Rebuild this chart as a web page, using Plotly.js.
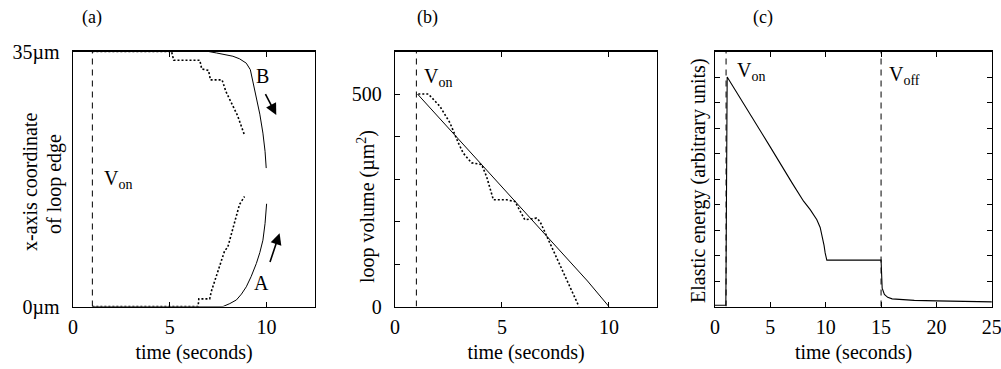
<!DOCTYPE html>
<html>
<head>
<meta charset="utf-8">
<script src="https://cdn.plot.ly/plotly-3.0.1.min.js"></script>
<style>html,body{margin:0;padding:0;background:#fff;}#chart{width:1001px;height:369px;}</style>
</head>
<body>
<div id="chart"></div>
<script>
// ---------- DATA ----------
const V_ON = 1;
const V_OFF = 15;

// Panel (a): x-axis coordinate of loop edge (µm) vs time (s)
const aB_solid_t = [1, 5, 7.0, 7.41, 7.8, 8.26, 8.6, 8.95, 9.16, 9.3, 9.47, 9.65, 9.81, 9.92, 9.98];
const aB_solid_y = [35, 35, 35, 34.8, 34.6, 34.35, 34.0, 33.4, 32.5, 30.8, 28.8, 26.4, 23.8, 21.3, 19.0];
const aA_solid_t = [1, 5, 7.75, 8.1, 8.44, 8.7, 8.95, 9.2, 9.47, 9.65, 9.81, 9.92, 10.0];
const aA_solid_y = [0, 0, 0, 0.4, 0.9, 1.7, 2.7, 4.1, 5.9, 7.4, 9.1, 11.4, 14.1];
const aB_dot_t = [1, 5.09, 5.2, 6.55, 6.65, 7.0, 7.1, 7.7, 7.9, 8.1, 8.3, 8.5, 8.7, 8.86];
const aB_dot_y = [35, 35, 33.8, 33.8, 32.6, 32.4, 31.1, 31.1, 29.5, 28.3, 27.3, 26.2, 24.8, 23.5];
const aA_dot_t = [1, 6.46, 6.5, 7.06, 7.16, 7.49, 7.84, 7.99, 8.18, 8.4, 8.6, 8.86];
const aA_dot_y = [0, 0, 1.05, 1.05, 2.2, 4.96, 7.7, 8.1, 10.0, 12.2, 14.0, 15.1];
const aYticks = [0, 35];
const aYtickText = ['0µm', '35µm'];

// Panel (b): loop volume (µm²) vs time (s)
const b_solid_t = [1.05, 3, 5, 7, 9, 10.0];
const b_solid_v = [500, 392, 280, 170, 60, 0];
const b_dot_t = [1.09, 1.56, 2.1, 2.57, 2.96, 3.19, 3.58, 4.05, 4.28, 4.6, 5.22, 5.61, 6.07, 6.62, 6.78, 7.4, 8.02, 8.6];
const b_dot_v = [500, 500, 471, 432, 385, 361, 338, 334, 306, 251, 251, 247, 204, 208, 200, 133, 63, 0];
const bYticks = [0, 500];
const bYtickText = ['0', '500'];
const bYminorStep = 100;

// Panel (c): elastic energy (arbitrary units) vs time (s)
const c_t = [0, 0.98, 1.1, 3, 5, 7, 8, 8.6, 8.9, 9.2, 9.5, 9.7, 9.85, 9.95, 10.02, 10.1, 15, 15.03, 15.1, 15.3, 15.6, 16, 17, 18, 20, 22.5, 25];
const c_e = [0.05, 0.05, 9.0, 7.68, 6.25, 4.82, 4.13, 3.8, 3.62, 3.4, 3.1, 2.75, 2.4, 2.1, 1.88, 1.82, 1.82, 1.2, 0.72, 0.47, 0.36, 0.3, 0.26, 0.24, 0.22, 0.2, 0.18];
const cYstep = 1;

const xTicksA = [0, 5, 10];
const xTicksC = [0, 5, 10, 15, 20, 25];

// ---------- PLOT ----------
const FONT = 'Liberation Serif';
const blk = '#000';
const H = 369, W = 1001;
const yDom = [(H - 306.5) / H, (H - 51.5) / H];

function line(x, y, xa, ya, dash, width) {
  return {x: x, y: y, xaxis: xa, yaxis: ya, type: 'scatter', mode: 'lines',
          line: {color: blk, width: width || 1, dash: dash || 'solid'}, hoverinfo: 'skip', showlegend: false};
}

const traces = [
  line([V_ON, V_ON], [0, 35], 'x', 'y', '6px,5px', 1),
  line(aB_solid_t, aB_solid_y, 'x', 'y', 'solid', 1),
  line(aA_solid_t, aA_solid_y, 'x', 'y', 'solid', 1),
  line(aB_dot_t, aB_dot_y, 'x', 'y', '2px,2px', 1.6),
  line(aA_dot_t, aA_dot_y, 'x', 'y', '2px,2px', 1.6),

  line([V_ON, V_ON], [0, 600], 'x2', 'y2', '6px,5px', 1),
  line(b_solid_t, b_solid_v, 'x2', 'y2', 'solid', 1),
  line(b_dot_t, b_dot_v, 'x2', 'y2', '2px,2px', 1.6),

  line([V_ON, V_ON], [0, 10], 'x3', 'y3', '6px,5px', 1),
  line([V_OFF, V_OFF], [0, 10], 'x3', 'y3', '6px,5px', 1),
  line(c_t, c_e, 'x3', 'y3', 'solid', 1.1)
];

function xAx(dom, range, tickvals, anchor) {
  return {domain: dom, range: range, anchor: anchor, tickvals: tickvals,
          ticktext: tickvals.map(String), ticks: 'inside', ticklen: 5, tickcolor: blk, tickwidth: 1,
          showline: true, linecolor: blk, linewidth: 1.3, mirror: 'ticks', showgrid: false, zeroline: false,
          tickfont: {family: FONT, size: 20, color: blk}, ticklabelstandoff: 2, ticklabeloverflow: 'allow',
          title: {text: 'time (seconds)', font: {family: FONT, size: 20, color: blk}, standoff: 8}};
}
function yAx(range, anchor, mirror) {
  return {domain: yDom, range: range, anchor: anchor,
          ticks: 'inside', ticklen: 5, tickcolor: blk, tickwidth: 1,
          showline: true, linecolor: blk, linewidth: 1.3, mirror: mirror, showgrid: false, zeroline: false,
          tickfont: {family: FONT, size: 20, color: blk}, ticklabelstandoff: 8, ticklabeloverflow: 'allow'};
}

function ann(o) {
  return Object.assign({showarrow: false, xanchor: 'center', yanchor: 'middle', font: {family: FONT, size: 20, color: blk}}, o);
}

const layout = {
  width: W, height: H, margin: {l: 0, r: 0, t: 0, b: 0},
  paper_bgcolor: '#fff', plot_bgcolor: '#fff', showlegend: false,
  font: {family: FONT, color: blk},
  xaxis: xAx([73 / W, 315 / W], [0, 12.5], xTicksA, 'y'),
  yaxis: Object.assign(yAx([0, 35], 'x', true), {tickvals: aYticks, ticktext: aYtickText}),
  xaxis2: xAx([395 / W, 657 / W], [0, 12.25], xTicksA, 'y2'),
  yaxis2: Object.assign(yAx([0, 600], 'x2', true), {tickvals: bYticks, ticktext: bYtickText,
          minor: {ticks: 'inside', ticklen: 5, tickcolor: blk, tickwidth: 1, dtick: bYminorStep, tick0: 0, showgrid: false}}),
  xaxis3: xAx([715 / W, 992 / W], [0, 25.02], xTicksC, 'y3'),
  yaxis3: Object.assign(yAx([0, 10], 'x3', 'ticks'), {tickmode: 'linear', tick0: 0, dtick: cYstep, showticklabels: false}),
  annotations: [
    // panel labels
    ann({xref: 'paper', yref: 'paper', x: 91.7 / W, y: 1 - 17 / H, text: '(a)', font: {family: FONT, size: 18, color: blk}}),
    ann({xref: 'paper', yref: 'paper', x: 427 / W, y: 1 - 17 / H, text: '(b)', font: {family: FONT, size: 18, color: blk}}),
    ann({xref: 'paper', yref: 'paper', x: 763 / W, y: 1 - 17 / H, text: '(c)', font: {family: FONT, size: 18, color: blk}}),
    // y titles
    ann({xref: 'paper', yref: 'paper', x: 30 / W, y: 1 - 182 / H, text: 'x-axis coordinate', textangle: -90}),
    ann({xref: 'paper', yref: 'paper', x: 54 / W, y: 1 - 184 / H, text: 'of loop edge', textangle: -90}),
    ann({xref: 'paper', yref: 'paper', x: 366 / W, y: 1 - 207 / H, text: 'loop volume (µm<sup>2</sup>)', textangle: -90}),
    ann({xref: 'paper', yref: 'paper', x: 698 / W, y: 1 - 181 / H, text: 'Elastic energy (arbitrary units)', textangle: -90}),
    // V_on / V_off
    ann({xref: 'x', yref: 'y', x: 1.48, y: 17.4, text: 'V<sub>on</sub>', xanchor: 'left'}),
    ann({xref: 'x2', yref: 'y2', x: 1.26, y: 540, text: 'V<sub>on</sub>', xanchor: 'left'}),
    ann({xref: 'x3', yref: 'y3', x: 1.8, y: 9.2, text: 'V<sub>on</sub>', xanchor: 'left'}),
    ann({xref: 'x3', yref: 'y3', x: 15.5, y: 9.05, text: 'V<sub>off</sub>', xanchor: 'left'}),
    // A / B labels
    ann({xref: 'x', yref: 'y', x: 9.79, y: 31.6, text: 'B'}),
    ann({xref: 'x', yref: 'y', x: 9.74, y: 3.2, text: 'A'}),
    // arrows
    {xref: 'x', yref: 'y', axref: 'x', ayref: 'y', x: 10.5, y: 26.3, ax: 9.9, ay: 29.35, text: '', showarrow: true,
     arrowhead: 2, arrowsize: 1.4, arrowwidth: 1.6, arrowcolor: blk},
    {xref: 'x', yref: 'y', axref: 'x', ayref: 'y', x: 10.67, y: 10.05, ax: 10.15, ay: 5.9, text: '', showarrow: true,
     arrowhead: 2, arrowsize: 1.4, arrowwidth: 1.6, arrowcolor: blk}
  ]
};

Plotly.newPlot('chart', traces, layout, {staticPlot: true, displayModeBar: false});
</script>
</body>
</html>
